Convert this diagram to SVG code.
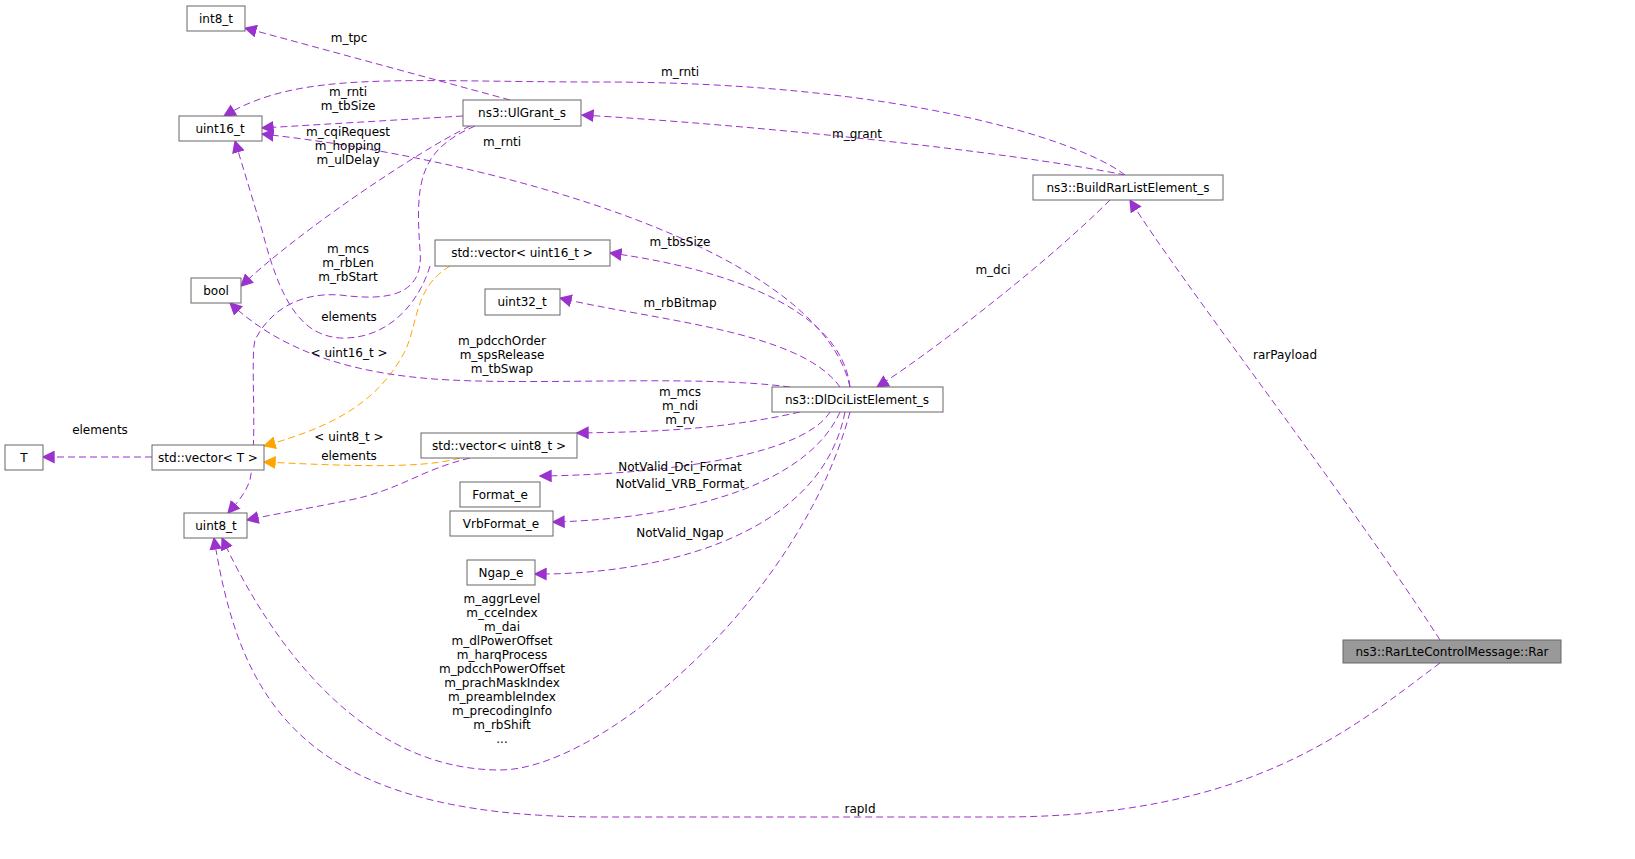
<svg xmlns="http://www.w3.org/2000/svg" width="1635" height="859" viewBox="0 0 1635 859">
<style>
.n rect{fill:#fff;stroke:#666;stroke-width:1}
text{font-family:"DejaVu Sans","Liberation Sans",sans-serif;font-size:12px;fill:#000;text-anchor:middle}
.e path{fill:none;stroke:#9a32cd;stroke-dasharray:7,4;stroke-width:1;marker-end:url(#ap)}
.e path.o{stroke:orange;marker-end:url(#ao)}
</style>
<defs>
<marker id="ap" viewBox="0 0 10 10" refX="9" refY="5" markerWidth="13" markerHeight="13" markerUnits="userSpaceOnUse" orient="auto"><path d="M0,0L10,5L0,10z" fill="#9a32cd"/></marker>
<marker id="ao" viewBox="0 0 10 10" refX="9" refY="5" markerWidth="13" markerHeight="13" markerUnits="userSpaceOnUse" orient="auto"><path d="M0,0L10,5L0,10z" fill="orange"/></marker>
</defs>
<rect width="1635" height="859" fill="#fff"/>
<g class="e">
<path d="M510,100 L245,28"/>
<path d="M1125,175 C1080,140 900,82 600,82 C400,82 300,70 224,116"/>
<path d="M463,116 L262,128"/>
<path d="M850,387 C820,250 500,160 262,134"/>
<path d="M470,126 C420,150 300,230 241,286"/>
<path d="M475,126 C420,150 415,180 420,250 C425,300 380,300 340,295 C300,292 270,310 255,340 C250,360 258,440 250,480 C245,495 235,505 228,513"/>
<path d="M430,266 C420,300 390,340 340,338 C300,335 280,300 262,230 L235,141"/>
<path class="o" d="M450,266 C410,290 420,330 400,360 C370,410 320,430 264,446"/>
<path class="o" d="M460,458 C420,470 330,465 264,462"/>
<path d="M470,458 C420,470 400,490 350,500 C300,510 270,515 247,520"/>
<path d="M152,457 L43,457"/>
<path d="M850,387 C840,300 700,265 610,253"/>
<path d="M840,387 C800,330 650,320 560,298"/>
<path d="M790,387 C700,375 550,385 450,380 C350,375 280,350 230,303"/>
<path d="M800,412 C720,430 650,432 577,433"/>
<path d="M830,412 C800,460 640,475 540,476"/>
<path d="M840,412 C800,500 640,520 553,522"/>
<path d="M845,412 C820,540 650,575 535,574"/>
<path d="M850,412 C800,600 600,770 500,770 C350,770 260,620 222,538"/>
<path d="M1125,175 C1000,150 750,125 582,115"/>
<path d="M1110,200 C1040,270 920,360 877,387"/>
<path d="M1440,640 C1350,500 1180,280 1130,200"/>
<path d="M1440,663 C1350,730 1250,817 1000,817 L600,817 C300,817 240,700 214,538"/>
</g>
<g class="l">
<text x="349" y="42">m_tpc</text>
<text x="680" y="76">m_rnti</text>
<text x="348" y="96">m_rnti</text><text x="348" y="110">m_tbSize</text>
<text x="502" y="146">m_rnti</text>
<text x="348" y="136">m_cqiRequest</text><text x="348" y="150">m_hopping</text><text x="348" y="164">m_ulDelay</text>
<text x="348" y="253">m_mcs</text><text x="348" y="267">m_rbLen</text><text x="348" y="281">m_rbStart</text>
<text x="349" y="321">elements</text>
<text x="349" y="357">&lt; uint16_t &gt;</text>
<text x="349" y="441">&lt; uint8_t &gt;</text>
<text x="349" y="460">elements</text>
<text x="100" y="434">elements</text>
<text x="680" y="246">m_tbsSize</text>
<text x="680" y="307">m_rbBitmap</text>
<text x="502" y="345">m_pdcchOrder</text><text x="502" y="359">m_spsRelease</text><text x="502" y="373">m_tbSwap</text>
<text x="680" y="396">m_mcs</text><text x="680" y="410">m_ndi</text><text x="680" y="424">m_rv</text>
<text x="680" y="471">NotValid_Dci_Format</text>
<text x="680" y="488">NotValid_VRB_Format</text>
<text x="680" y="537">NotValid_Ngap</text>
<text x="502" y="603">m_aggrLevel</text><text x="502" y="617">m_cceIndex</text><text x="502" y="631">m_dai</text><text x="502" y="645">m_dlPowerOffset</text><text x="502" y="659">m_harqProcess</text><text x="502" y="673">m_pdcchPowerOffset</text><text x="502" y="687">m_prachMaskIndex</text><text x="502" y="701">m_preambleIndex</text><text x="502" y="715">m_precodingInfo</text><text x="502" y="729">m_rbShift</text><text x="502" y="743">...</text>
<text x="857" y="138">m_grant</text>
<text x="993" y="274">m_dci</text>
<text x="1285" y="359">rarPayload</text>
<text x="860" y="813">rapId</text>
</g>
<g class="n" id="int8"><rect x="187" y="6" width="58" height="25"/><text x="216" y="23">int8_t</text></g>
<g class="n" id="uint16"><rect x="179" y="116" width="83" height="25"/><text x="220" y="133">uint16_t</text></g>
<g class="n" id="ulgrant"><rect x="463" y="100" width="118" height="26"/><text x="522" y="117">ns3::UlGrant_s</text></g>
<g class="n" id="bool"><rect x="191" y="278" width="50" height="25"/><text x="216" y="295">bool</text></g>
<g class="n" id="vec16"><rect x="435" y="240" width="175" height="26"/><text x="522" y="257">std::vector&lt; uint16_t &gt;</text></g>
<g class="n" id="uint32"><rect x="485" y="289" width="75" height="26"/><text x="522" y="306">uint32_t</text></g>
<g class="n" id="T"><rect x="5" y="445" width="38" height="25"/><text x="24" y="462">T</text></g>
<g class="n" id="vecT"><rect x="152" y="445" width="112" height="25"/><text x="208" y="462">std::vector&lt; T &gt;</text></g>
<g class="n" id="vec8"><rect x="421" y="433" width="156" height="25"/><text x="499" y="450">std::vector&lt; uint8_t &gt;</text></g>
<g class="n" id="uint8"><rect x="184" y="513" width="63" height="25"/><text x="216" y="530">uint8_t</text></g>
<g class="n" id="format"><rect x="460" y="482" width="80" height="25"/><text x="500" y="499">Format_e</text></g>
<g class="n" id="vrb"><rect x="450" y="511" width="103" height="25"/><text x="501" y="528">VrbFormat_e</text></g>
<g class="n" id="ngap"><rect x="467" y="560" width="68" height="25"/><text x="501" y="577">Ngap_e</text></g>
<g class="n" id="dldci"><rect x="772" y="387" width="171" height="25"/><text x="857" y="404">ns3::DlDciListElement_s</text></g>
<g class="n" id="buildrar"><rect x="1033" y="175" width="190" height="25"/><text x="1128" y="192">ns3::BuildRarListElement_s</text></g>
<g class="n" id="rar"><rect x="1343" y="640" width="218" height="23" style="fill:#999"/><text x="1452" y="656">ns3::RarLteControlMessage::Rar</text></g>
</svg>
